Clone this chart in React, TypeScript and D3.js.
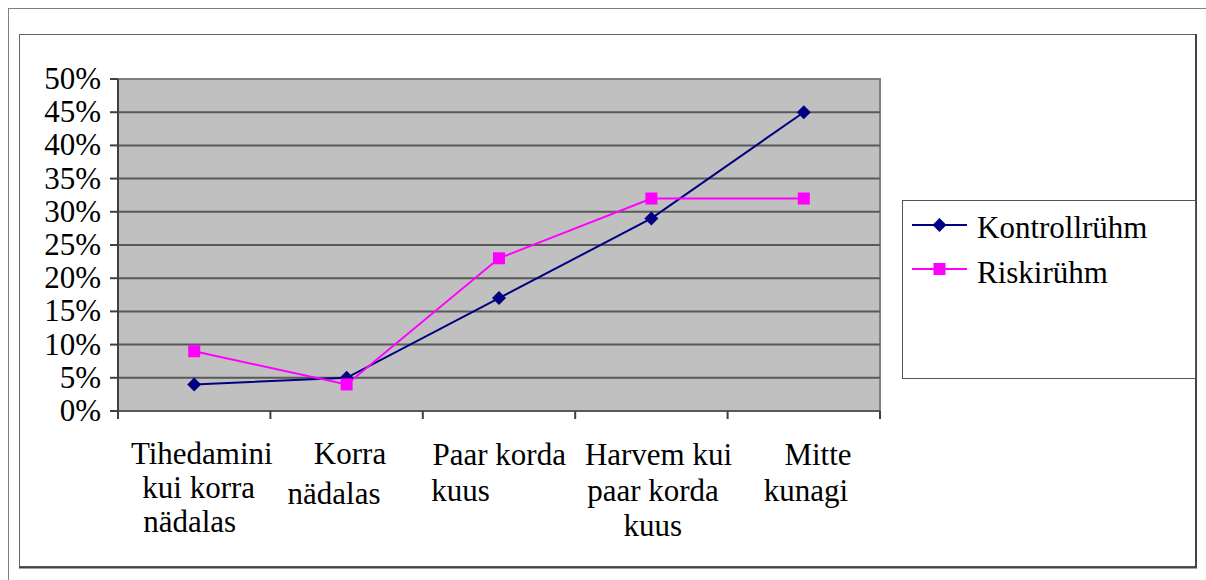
import React from "react";
import * as d3 from "d3";

const categories = [
  "Tihedamini kui korra nädalas",
  "Korra nädalas",
  "Paar korda kuus",
  "Harvem kui paar korda kuus",
  "Mitte kunagi",
];

// wrapped label lines as they appear under the axis
const categoryLines = [
  ["Tihedamini", "kui korra", "nädalas"],
  ["Korra", "nädalas"],
  ["Paar korda", "kuus"],
  ["Harvem kui", "paar korda", "kuus"],
  ["Mitte", "kunagi"],
];

const kontrollruhm = [0.04, 0.05, 0.17, 0.29, 0.45];
const riskiruhm = [0.09, 0.04, 0.23, 0.32, 0.32];

const yTicks = [0, 0.05, 0.1, 0.15, 0.2, 0.25, 0.3, 0.35, 0.4, 0.45, 0.5];

const seriesNames = ["Kontrollrühm", "Riskirühm"];

// layout of the wrapped labels (Excel spacing quirks)
const lineBaselines = [
  [464, 498, 532],
  [464, 504],
  [465, 501],
  [465, 501, 536],
  [465, 501],
];
const lineShift = [
  [7.6, 4.5, -4.5],
  [3.4, -12.6],
  [0.2, -38.4],
  [7.1, 1.6, 1.3],
  [14.2, 2.2],
];

const font = "Liberation Serif, Tinos, Times New Roman, Times, serif";
const textStyle = { fontFamily: font, fontSize: 31 };

export default function App() {
  const width = 1206;
  const height = 580;
  const plot = { left: 118, right: 880, top: 79, bottom: 411 };

  const xScale = d3
    .scaleBand()
    .domain(categories)
    .range([plot.left, plot.right]);

  const yScale = d3
    .scaleLinear()
    .domain([0, 0.5])
    .range([plot.bottom, plot.top]);

  const fmt = d3.format(".0%");
  const cx = (i: number) => (xScale(categories[i]) as number) + xScale.bandwidth() / 2;

  const line = d3
    .line<number>()
    .x((_, i) => cx(i))
    .y((d) => yScale(d));

  const diamond = (x: number, y: number, r = 7) =>
    `M${x},${y - r}L${x + r},${y}L${x},${y + r}L${x - r},${y}Z`;

  const bandEdges = categories.map((c) => xScale(c) as number).concat([plot.right]);

  return (
    <div style={{ position: "absolute", left: 0, top: 0 }}>
      <svg width={width} height={height} style={{ display: "block", background: "#fff" }}>
        {/* outer frame */}
        <rect x={8.5} y={8.5} width={1220} height={600} fill="none" stroke="#7f7f7f" strokeWidth={1} />
        {/* chart area */}
        <rect x={19.5} y={34.5} width={1176} height={532} fill="#fff" stroke="#666" strokeWidth={1} />
        <line x1={1196} y1={34} x2={1196} y2={568} stroke="#444" strokeWidth={2} />
        <line x1={19} y1={567.5} x2={1197} y2={567.5} stroke="#444" strokeWidth={2} />

        {/* plot area */}
        <rect
          x={plot.left}
          y={plot.top}
          width={plot.right - plot.left}
          height={plot.bottom - plot.top}
          fill="#c0c0c0"
          stroke="#808080"
          strokeWidth={2}
        />
        {yTicks.slice(0, -1).map((t) => (
          <line key={t} x1={plot.left} x2={plot.right} y1={yScale(t)} y2={yScale(t)} stroke="#595959" strokeWidth={2} />
        ))}

        {/* y axis */}
        <line x1={plot.left} x2={plot.left} y1={plot.top} y2={plot.bottom + 7} stroke="#404040" strokeWidth={2} />
        {yTicks.map((t) => (
          <g key={t}>
            <line x1={plot.left - 8} x2={plot.left} y1={yScale(t)} y2={yScale(t)} stroke="#404040" strokeWidth={2} />
            <text x={101} y={yScale(t) + 10} textAnchor="end" style={textStyle} fill="#000">
              {fmt(t)}
            </text>
          </g>
        ))}

        {/* x axis ticks */}
        {bandEdges.map((x, i) => (
          <line key={i} x1={x} x2={x} y1={plot.bottom} y2={plot.bottom + 8} stroke="#404040" strokeWidth={2} />
        ))}
        {categoryLines.map((lines, i) =>
          lines.map((s, j) => (
            <text
              key={`${i}-${j}`}
              x={cx(i) + lineShift[i][j]}
              y={lineBaselines[i][j]}
              textAnchor="middle"
              style={textStyle}
              fill="#000"
            >
              {s}
            </text>
          ))
        )}

        {/* series */}
        <path d={line(kontrollruhm) as string} fill="none" stroke="#000080" strokeWidth={2} />
        <path d={line(riskiruhm) as string} fill="none" stroke="#ff00ff" strokeWidth={2} />
        {kontrollruhm.map((v, i) => (
          <path key={i} d={diamond(cx(i), yScale(v))} fill="#000080" />
        ))}
        {riskiruhm.map((v, i) => (
          <rect key={i} x={cx(i) - 6} y={yScale(v) - 6} width={12} height={12} fill="#ff00ff" />
        ))}

        {/* legend */}
        <rect x={902.5} y={200.5} width={293} height={178} fill="#fff" stroke="#555" strokeWidth={1} />
        <line x1={912} x2={967} y1={225} y2={225} stroke="#000080" strokeWidth={2} />
        <path d={diamond(939.5, 225)} fill="#000080" />
        <text x={977} y={238} style={textStyle} fill="#000">
          {seriesNames[0]}
        </text>
        <line x1={912} x2={967} y1={269} y2={269} stroke="#ff00ff" strokeWidth={2} />
        <rect x={933.5} y={263} width={12} height={12} fill="#ff00ff" />
        <text x={977} y={282.5} style={textStyle} fill="#000">
          {seriesNames[1]}
        </text>
      </svg>
    </div>
  );
}
